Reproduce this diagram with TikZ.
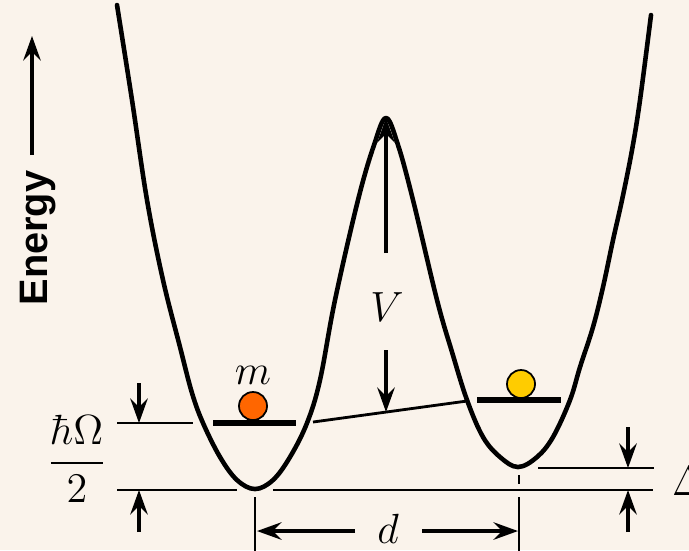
\documentclass[tikz,border=0pt]{standalone}
\usepackage{amsmath}
\usepackage{fontspec}
\newfontfamily\energyfont{Liberation Sans}
\usepackage{tikz}
\usetikzlibrary{arrows.meta}

\definecolor{bgcream}{RGB}{250,243,235}
\definecolor{ballorange}{RGB}{255,102,0}
\definecolor{ballyellow}{RGB}{255,204,0}

\tikzset{
    well/.style={line width=1.3pt, line join=round, line cap=round},
    level/.style={line width=1.7pt},
    refline/.style={line width=0.8pt},
    dimarrow/.style={line width=0.9pt, -{Stealth[length=7pt,width=5pt,inset=2.5pt]}},
    ball/.style={circle, draw, line width=0.5pt, minimum size=0.28cm, inner sep=0pt},
    lab/.style={font=\fontsize{11.5}{14}\selectfont, inner sep=1pt}
}

\begin{document}
\begin{tikzpicture}[x=0.01cm,y=-0.01cm]
    \fill[bgcream] (0,0) rectangle (689,550);
    \useasboundingbox (0,0) rectangle (689,550);

    % double well
    \draw[well] plot[smooth, tension=0.6] coordinates {
        (117,5) (132,100) (147,200) (163,280) (180,347) (192,393) (203,423)
        (220,457) (237,480) (255,489) (273,480) (290,457) (307,423) (320,380)
        (335,300) (358,200) (374,145) (386,118) (398,145) (413,200) (437,300)
        (452,352) (467,400) (483,437) (500,457) (518,467) (537,457) (553,437)
        (570,400) (580,367) (593,327) (603,287) (613,240) (622,200) (632,150)
        (640,100) (651,15)};

    % levels and balls
    \coordinate (lvlL1) at (213,423);
    \coordinate (lvlL2) at (296,423);
    \coordinate (lvlR1) at (477,400);
    \coordinate (lvlR2) at (561,400);
    \draw[level] (lvlL1) -- (lvlL2);
    \draw[level] (lvlR1) -- (lvlR2);
    \node[ball, fill=ballorange] (mball) at (253,406) {};
    \node[ball, fill=ballyellow] (yball) at (521,384) {};
    \node[lab] (mlab) at (253,375) {$m$};

    % barrier height
    \coordinate (slopeL) at (313,422);
    \coordinate (slopeR) at (467,401);
    \draw[refline] (slopeL) -- (slopeR);
    \coordinate (peak) at (386,118);
    \coordinate (vfoot) at (386,412);
    \node[lab] (vlab) at (387,307) {$V$};
    \draw[dimarrow] (386,253) coordinate (vup) -- (peak);
    \draw[dimarrow] (386,350) coordinate (vdown) -- (vfoot);

    % zero point energy
    \coordinate (hlineA) at (117,423);
    \coordinate (hlineB) at (193,423);
    \coordinate (baseA) at (117,490);
    \coordinate (baseB) at (237,490);
    \coordinate (baseC) at (273,490);
    \coordinate (baseD) at (653,490);
    \draw[refline] (hlineA) -- (hlineB);
    \draw[refline] (baseA) -- (baseB);
    \draw[refline] (baseC) -- (baseD);
    \coordinate (hupS) at (139,383);
    \coordinate (hupE) at (139,423);
    \coordinate (hdnS) at (139,532);
    \coordinate (hdnE) at (139,490);
    \draw[dimarrow] (hupS) -- (hupE);
    \draw[dimarrow] (hdnS) -- (hdnE);
    \node[lab] (hlab) at (77,459) {$\dfrac{\hbar\Omega}{2}$};

    % asymmetry
    \coordinate (dltA) at (538,468);
    \coordinate (dltB) at (654,468);
    \draw[refline] (dltA) -- (dltB);
    \coordinate (dupS) at (628,427);
    \coordinate (dupE) at (628,468);
    \coordinate (ddnS) at (628,532);
    \coordinate (ddnE) at (628,490);
    \draw[dimarrow] (dupS) -- (dupE);
    \draw[dimarrow] (ddnS) -- (ddnE);
    \node[lab, anchor=west] (dlt) at (668,481) {$\Delta$};

    % separation
    \coordinate (markL) at (255,497);
    \coordinate (markLb) at (255,552);
    \coordinate (markR) at (519,497);
    \coordinate (markRb) at (519,552);
    \coordinate (dashA) at (519,475);
    \coordinate (dashB) at (519,484);
    \draw[refline] (markL) -- (markLb);
    \draw[refline] (markR) -- (markRb);
    \draw[refline] (dashA) -- (dashB);
    \node[lab] (dlab) at (388,529) {$d$};
    \coordinate (dL) at (257,531);
    \coordinate (dR) at (518,531);
    \draw[dimarrow] (355,531) coordinate (dLs) -- (dL);
    \draw[dimarrow] (422,531) coordinate (dRs) -- (dR);

    % axis
    \node[rotate=90, anchor=base, inner sep=0pt,
        font=\energyfont\bfseries\fontsize{11.3}{13}\selectfont] (energy) at (47,238) {Energy};
    \coordinate (eS) at (32,155);
    \coordinate (eE) at (32,36);
    \draw[dimarrow] (eS) -- (eE);
\end{tikzpicture}
\end{document}
